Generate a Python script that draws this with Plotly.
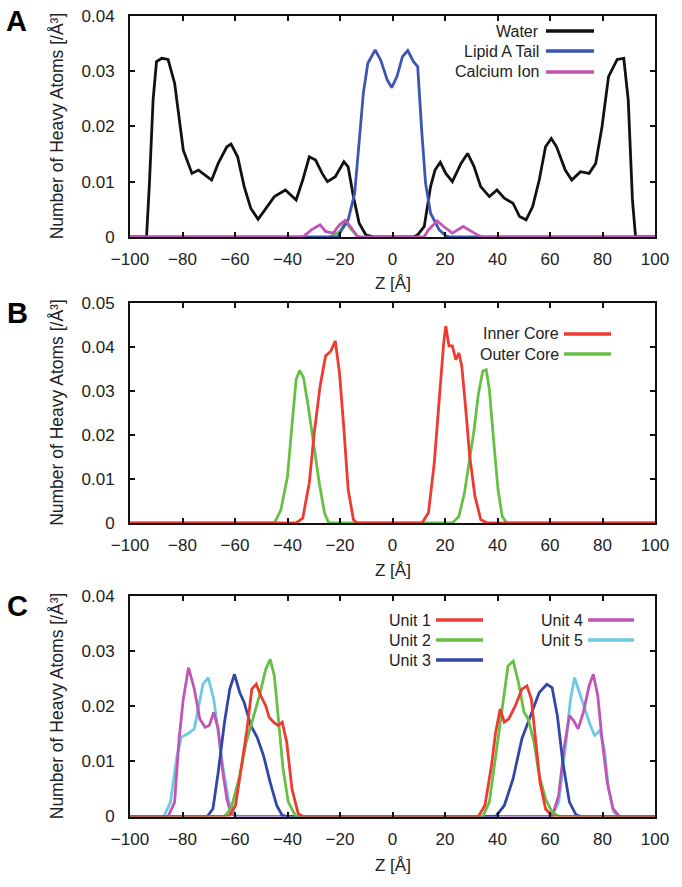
import plotly.graph_objects as go

W, H = 682, 887

# ---------------- data ----------------
# Panel A
water_z = [-100, -93.7, -92.6, -91.2, -89.9, -87.9, -85.5, -83, -79.7, -76.4, -73.9, -71.4, -68.9, -66.4,
           -63.1, -61.5, -59, -56.5, -54, -51.2, -48.3, -45, -40.8, -36.7, -34.2, -31.7, -29.3, -26.8,
           -24.8, -21.8, -18.5, -16.9, -14.9, -12.7, -10.2, -6.9,
           8, 9.6, 12.1, 14.5, 16.2, 18.2, 20.3, 22.8, 26.1, 28.6, 31.1, 33.6, 36.9, 39.8, 42.6, 45.9,
           48.4, 50.9, 53.4, 55.9, 58.3, 60.5, 62.5, 65.8, 68.3, 71.6, 74.9, 77.4, 79.8, 82.3, 85.6,
           88.1, 89.8, 91.4, 92.6, 100]
water_v = [0, 0, 0.0097, 0.0248, 0.0317, 0.0323, 0.0321, 0.0278, 0.0157, 0.0115, 0.0121, 0.0112, 0.0103,
           0.0133, 0.0163, 0.0168, 0.0145, 0.0091, 0.0052, 0.0032, 0.0052, 0.0073, 0.0085, 0.0067,
           0.0103, 0.0145, 0.0139, 0.0115, 0.0100, 0.0109, 0.0136, 0.0127, 0.0073, 0.0025, 0.0004, 0,
           0, 0.0004, 0.0019, 0.0091, 0.0121, 0.0135, 0.0115, 0.0100, 0.0133, 0.0151, 0.0127, 0.0091,
           0.0073, 0.0085, 0.0070, 0.0061, 0.0037, 0.0031, 0.0055, 0.0103, 0.0163, 0.0178, 0.0163,
           0.0121, 0.0103, 0.0118, 0.0115, 0.0133, 0.0199, 0.0290, 0.0321, 0.0323, 0.0248, 0.0067, 0, 0]

lipid_z = [-100, -21, -19.3, -16.9, -14.4, -12.7, -11.1, -9.4, -6.6, -4.5, -2, -0.3, 1.7, 3.8, 5.8, 8,
           9.6, 11.2, 12.6, 14.5, 17.8, 20.3, 22, 100]
lipid_v = [0, 0, 0.0013, 0.0031, 0.0079, 0.0175, 0.0260, 0.0314, 0.0338, 0.0320, 0.0284, 0.0270, 0.0290,
           0.0326, 0.0337, 0.0317, 0.0308, 0.0187, 0.0097, 0.0043, 0.0013, 0.0002, 0, 0]

calcium_z = [-100, -34.2, -30.9, -27.6, -25.5, -22.6, -20.2, -18, -16, -13.6, -12, 12, 13.7, 17, 19.5,
             22.8, 26.9, 29.1, 31.1, 32.7, 34.4, 100]
calcium_v = [0, 0, 0.0013, 0.0022, 0.0010, 0.0007, 0.0022, 0.0030, 0.0019, 0.0002, 0, 0, 0.0013, 0.0029,
             0.0019, 0.0007, 0.0019, 0.0013, 0.0007, 0.0003, 0, 0]

outer_a_z = [-24, -20, -18, -16, -13]
outer_a_v = [0, 0.0010, 0.0028, 0.0015, 0]

# Panel B
inner_z = [-100, -36.7, -34.2, -31.7, -29.8, -27.6, -25.5, -23.5, -21.8, -20.2, -18.5, -16.9, -14.9, -13.6,
           11.2, 13.7, 15.9, 17.8, 19.5, 20.3, 21.5, 22.8, 24.1, 25.3, 26.4, 27.8, 29.4, 31.4, 33.6, 36, 100]
inner_v = [0, 0, 0.0011, 0.0091, 0.0205, 0.0310, 0.0379, 0.0390, 0.0413, 0.0341, 0.0212, 0.0076, 0.0008, 0,
           0, 0.0023, 0.0136, 0.0280, 0.0409, 0.0447, 0.0402, 0.0402, 0.0371, 0.0386, 0.0356, 0.0265,
           0.0152, 0.0061, 0.0008, 0, 0]

outer_z = [-100, -45, -42.5, -40, -38, -36.7, -35.4, -33.9, -32.1, -30.1, -27.9, -25.9, -24.3,
           22.8, 25.3, 27.4, 29.4, 31.1, 32.7, 34.4, 35.7, 36.9, 38.5, 40.2, 41.8, 43.5, 100]
outer_v = [0, 0, 0.0030, 0.0106, 0.0242, 0.0326, 0.0346, 0.0330, 0.0265, 0.0182, 0.0091, 0.0023, 0,
           0, 0.0015, 0.0068, 0.0152, 0.0212, 0.0292, 0.0345, 0.0348, 0.0303, 0.0189, 0.0076, 0.0015, 0, 0]

# Panel C
unit1_z = [-100, -62.3, -59.8, -57.4, -55.4, -53.6, -51.9, -50.2, -48.3, -47, -45.3, -43.6, -42, -40.3,
           -38.3, -35.9, -34, 32.7, 35.2, 37.7, 39.3, 41, 42.6, 44.3, 46.8, 49.3, 51.2, 52.9, 54.5, 56.2,
           58.3, 60.8, 100]
unit1_v = [0, 0, 0.0020, 0.0098, 0.0159, 0.0231, 0.0240, 0.0219, 0.0201, 0.0180, 0.0171, 0.0165, 0.0171,
           0.0135, 0.0050, 0.0005, 0, 0, 0.0020, 0.0092, 0.0153, 0.0195, 0.0171, 0.0177, 0.0201, 0.0231,
           0.0237, 0.0213, 0.0141, 0.0062, 0.0014, 0, 0]

unit2_z = [-100, -64, -61.5, -58.2, -55.7, -53.2, -50.7, -48.3, -46.6, -45, -43.3, -41.7, -39.7, -37, -35,
           34.4, 36.9, 39.3, 41.8, 44, 46, 48, 50.1, 51.7, 53.9, 55.9, 58.3, 60.8, 63.3, 100]
unit2_v = [0, 0, 0.0014, 0.0074, 0.0135, 0.0177, 0.0219, 0.0267, 0.0285, 0.0255, 0.0171, 0.0086, 0.0026,
           0.0002, 0, 0, 0.0026, 0.0110, 0.0201, 0.0273, 0.0282, 0.0243, 0.0189, 0.0177, 0.0135, 0.0074,
           0.0032, 0.0008, 0, 0]

unit3_z = [-100, -70.6, -68.4, -66.4, -64, -62, -60.2, -58.2, -56.5, -54, -51.6, -49.1, -46.6, -44.1, -42,
           -40, 39.3, 42.6, 45.9, 49.3, 52.6, 55.9, 58.8, 60.8, 62.8, 64.9, 67.4, 69.9, 72, 100]
unit3_v = [0, 0, 0.0014, 0.0080, 0.0171, 0.0231, 0.0258, 0.0225, 0.0207, 0.0165, 0.0144, 0.0110, 0.0062,
           0.0020, 0.0002, 0, 0, 0.0020, 0.0068, 0.0141, 0.0183, 0.0225, 0.0240, 0.0234, 0.0183, 0.0098,
           0.0026, 0.0003, 0, 0]

unit4_z = [-100, -85.5, -83, -81.3, -79.7, -77.7, -75.5, -73.4, -71.4, -69.8, -68.1, -66.4, -64.8, -63.1,
           -61.5, -59.8, 60.8, 63.3, 65.3, 67.4, 69, 70.7, 72.7, 74.9, 76.5, 78.2, 79.8, 81.8, 84, 86.5, 100]
unit4_v = [0, 0, 0.0026, 0.0141, 0.0213, 0.0270, 0.0231, 0.0177, 0.0162, 0.0165, 0.0189, 0.0159, 0.0086,
           0.0032, 0.0005, 0, 0, 0.0038, 0.0122, 0.0183, 0.0174, 0.0159, 0.0189, 0.0237, 0.0258, 0.0219,
           0.0141, 0.0062, 0.0014, 0, 0]

unit5_z = [-100, -87.1, -84.6, -82.1, -80.5, -78, -75.5, -73.9, -72.2, -70.2, -68.1, -66.4, -64.5, -62.3,
           -59.8, -58, 60.8, 63.3, 65.8, 67.8, 69.4, 71.6, 73.2, 75.4, 77, 79, 80.7, 82.3, 84.3, 86.5, 100]
unit5_v = [0, 0, 0.0026, 0.0110, 0.0144, 0.0150, 0.0159, 0.0201, 0.0240, 0.0252, 0.0213, 0.0153, 0.0086,
           0.0026, 0.0002, 0, 0, 0.0026, 0.0122, 0.0213, 0.0252, 0.0219, 0.0195, 0.0165, 0.0147, 0.0156,
           0.0122, 0.0050, 0.0008, 0, 0]

x_ticks = [-100, -80, -60, -40, -20, 0, 20, 40, 60, 80, 100]
y_ticks_a = [0, 0.01, 0.02, 0.03, 0.04]
y_ticks_b = [0, 0.01, 0.02, 0.03, 0.04, 0.05]
y_ticks_c = [0, 0.01, 0.02, 0.03, 0.04]

# ---------------- styles ----------------
BLACK = "#111111"
BLUE = "#3d56b2"
MAGENTA = "#c055b5"
RED = "#ee3a30"
GREEN = "#66c044"
CYAN = "#6ccbe2"
BLUE3 = "#3147a8"
LW = 2.8
FONT = "Liberation Sans"

# pixel layout -> paper coordinates
PL, PR = 130, 655
panels = [(15.7, 237.0), (302.7, 523.0), (596.0, 816.5)]


def px(x):
    return x / W


def py(y):
    return 1 - y / H


fig = go.Figure()


def add(x, y, color, axis_idx, name):
    sfx = "" if axis_idx == 1 else str(axis_idx)
    fig.add_trace(go.Scatter(x=x, y=y, mode="lines", name=name, showlegend=False,
                             line=dict(color=color, width=LW),
                             xaxis="x" + sfx, yaxis="y" + sfx))


add(water_z, water_v, BLACK, 1, "Water")
add(outer_a_z, outer_a_v, GREEN, 1, "Outer Core")
add(lipid_z, lipid_v, BLUE, 1, "Lipid A Tail")
add(calcium_z, calcium_v, MAGENTA, 1, "Calcium Ion")

add(outer_z, outer_v, GREEN, 2, "Outer Core")
add(inner_z, inner_v, RED, 2, "Inner Core")

add(unit5_z, unit5_v, CYAN, 3, "Unit 5")
add(unit4_z, unit4_v, MAGENTA, 3, "Unit 4")
add(unit3_z, unit3_v, BLUE3, 3, "Unit 3")
add(unit2_z, unit2_v, GREEN, 3, "Unit 2")
add(unit1_z, unit1_v, RED, 3, "Unit 1")

axis_common = dict(showline=True, linecolor=BLACK, linewidth=2, mirror="ticks", ticks="inside",
                   ticklen=5, tickwidth=2, tickcolor=BLACK, showgrid=False, zeroline=False,
                   automargin=False,
                   tickfont=dict(family=FONT, size=17, color="#222222"))

layout = dict(width=W, height=H, margin=dict(l=0, r=0, t=0, b=0, pad=0, autoexpand=False),
              paper_bgcolor="white", plot_bgcolor="white", showlegend=False, template="none")

yranges = [(0, 0.04, y_ticks_a), (0, 0.05, y_ticks_b), (0, 0.04, y_ticks_c)]
for i, ((top, bot), (y0, y1, yt)) in enumerate(zip(panels, yranges), start=1):
    sfx = "" if i == 1 else str(i)
    layout["xaxis" + sfx] = dict(axis_common, domain=[px(PL), px(PR)], range=[-100, 100],
                                 tickvals=x_ticks, anchor="y" + sfx, ticklabelstandoff=6)
    layout["yaxis" + sfx] = dict(axis_common, domain=[py(bot), py(top)], range=[y0, y1],
                                 tickvals=yt, ticktext=["0"] + [f"{v:.2f}" for v in yt[1:]],
                                 anchor="x" + sfx, ticklabelstandoff=10)

fig.update_layout(**layout)

annotations = []
shapes = []
xlabel_y = [283, 570, 865]
for i, (top, bot) in enumerate(panels):
    annotations.append(dict(x=px((PL + PR) / 2), y=py(xlabel_y[i]), xref="paper", yref="paper",
                            text="Z [Å]", showarrow=False, xanchor="center", yanchor="middle",
                            font=dict(family=FONT, size=17, color="#222222")))
    annotations.append(dict(x=px(57), y=py((top + bot) / 2), xref="paper", yref="paper",
                            text="Number of Heavy Atoms [/Å³]", textangle=-90,
                            showarrow=False, xanchor="center", yanchor="middle",
                            font=dict(family=FONT, size=17.5, color="#222222")))

for lab, (cx, cy) in zip(["A", "B", "C"], [(16, 21), (17, 313), (17, 606)]):
    annotations.append(dict(x=px(cx), y=py(cy), xref="paper", yref="paper", text=f"<b>{lab}</b>",
                            showarrow=False, xanchor="center", yanchor="middle",
                            font=dict(family=FONT, size=29, color="black")))

# legend entries (gnuplot style: text then sample line)
legend_items = [
    ("Water", BLACK, 541, 546, 594, 31),
    ("Lipid A Tail", BLUE, 541, 546, 594, 51),
    ("Calcium Ion", MAGENTA, 541, 546, 594, 72),
    ("Inner Core", RED, 561, 564, 611, 334),
    ("Outer Core", GREEN, 561, 564, 611, 354),
    ("Unit 1", RED, 433, 436, 483, 620),
    ("Unit 2", GREEN, 433, 436, 483, 640),
    ("Unit 3", BLUE3, 433, 436, 483, 660),
    ("Unit 4", MAGENTA, 585, 588, 634, 620),
    ("Unit 5", CYAN, 585, 588, 634, 640),
]
for text, col, tx, lx0, lx1, ly in legend_items:
    annotations.append(dict(x=px(tx), y=py(ly), xref="paper", yref="paper", text=text,
                            showarrow=False, xanchor="right", yanchor="middle",
                            font=dict(family=FONT, size=16, color="#222222")))
    shapes.append(dict(type="line", xref="paper", yref="paper", x0=px(lx0), x1=px(lx1),
                       y0=py(ly), y1=py(ly), line=dict(color=col, width=3.5)))

fig.update_layout(annotations=annotations, shapes=shapes)
fig.write_html("out.html", config={"displayModeBar": False},
               post_script="document.body.style.margin='0';")
